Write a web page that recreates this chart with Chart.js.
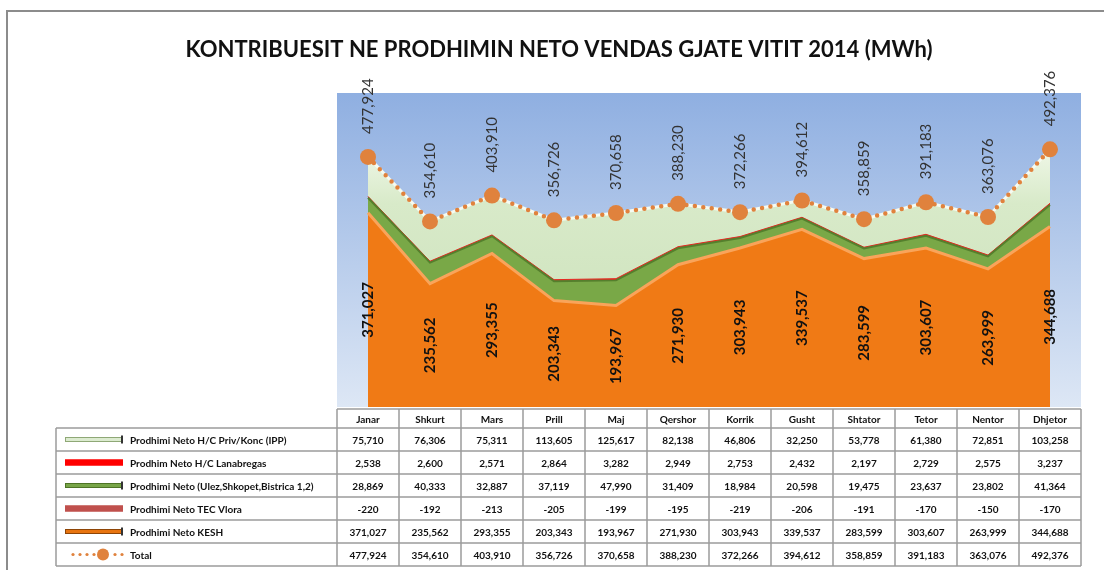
<!DOCTYPE html>
<html>
<head>
<meta charset="utf-8">
<script src="https://cdn.jsdelivr.net/npm/chart.js@4"></script>
<style>
    body { margin: 0; background: #fff; }
    canvas { display: block; }
</style>
</head>
<body>
<canvas id="prodhimiChart" width="1104" height="570"></canvas>
<script>
const months = ['Janar', 'Shkurt', 'Mars', 'Prill', 'Maj', 'Qershor', 'Korrik', 'Gusht', 'Shtator', 'Tetor', 'Nentor', 'Dhjetor'];
const ipp = [75710, 76306, 75311, 113605, 125617, 82138, 46806, 32250, 53778, 61380, 72851, 103258];
const lanabregas = [2538, 2600, 2571, 2864, 3282, 2949, 2753, 2432, 2197, 2729, 2575, 3237];
const ulez = [28869, 40333, 32887, 37119, 47990, 31409, 18984, 20598, 19475, 23637, 23802, 41364];
const tecVlora = [-220, -192, -213, -205, -199, -195, -219, -206, -191, -170, -150, -170];
const kesh = [371027, 235562, 293355, 203343, 193967, 271930, 303943, 339537, 283599, 303607, 263999, 344688];
const total = [477924, 354610, 403910, 356726, 370658, 388230, 372266, 394612, 358859, 391183, 363076, 492376];

const titleText = 'KONTRIBUESIT NE PRODHIMIN NETO VENDAS GJATE VITIT 2014 (MWh)';
const fmt = v => v.toLocaleString('en-US');

// rendi i rreshtave ne tabele (indekset e dataset-eve)
const tableOrder = [4, 3, 2, 0, 1, 5];

function drawSwatch(ctx, kind, x, y) {
    ctx.save();
    if (kind === 'total') {
        ctx.fillStyle = '#E0823D';
        for (let dx = 0; dx <= 52; dx += 7) {
            if (Math.abs(dx - 30) < 8) continue;
            ctx.beginPath();
            ctx.arc(x + 8 + dx, y, 1.6, 0, Math.PI * 2);
            ctx.fill();
        }
        ctx.beginPath();
        ctx.arc(x + 38, y, 6, 0, Math.PI * 2);
        ctx.fill();
    } else {
        const s = {
            ipp: ['#DCEBD0', '#8FA876', 5],
            lana: ['#FF0000', '#FF0000', 6],
            ulez: ['#78A548', '#4E7426', 5],
            tec: ['#C0504D', '#C0504D', 6],
            kesh: ['#E8740F', '#8E4506', 5]
        }[kind];
        ctx.fillStyle = s[0];
        ctx.fillRect(x, y - s[2] / 2, 58, s[2]);
        ctx.strokeStyle = s[1];
        ctx.lineWidth = 1;
        ctx.strokeRect(x + 0.5, y - s[2] / 2 + 0.5, 57, s[2] - 1);
        if (kind !== 'lana' && kind !== 'tec') {
            ctx.fillStyle = '#333';
            ctx.fillRect(x + 56, y - 4, 2, 8);
        }
    }
    ctx.restore();
}

const tablePlugin = {
    id: 'dataTable',
    beforeDraw(chart) {
        const ctx = chart.ctx;
        const area = chart.chartArea;
        ctx.save();
        ctx.fillStyle = '#ffffff';
        ctx.fillRect(0, 0, chart.width, chart.height);

        // korniza
        ctx.strokeStyle = '#8C8C8C';
        ctx.lineWidth = 2;
        ctx.beginPath();
        ctx.moveTo(7, chart.height);
        ctx.lineTo(7, 11);
        ctx.lineTo(chart.width, 11);
        ctx.stroke();

        // titulli
        ctx.fillStyle = '#111';
        ctx.font = 'bold 22px Lato';
        ctx.textAlign = 'center';
        ctx.textBaseline = 'middle';
        ctx.fillText(titleText, 559, 50);

        // sfondi i zones se grafikut
        const g = ctx.createLinearGradient(0, area.top, 0, area.bottom);
        g.addColorStop(0, '#8FAFE1');
        g.addColorStop(1, '#DDE7F5');
        ctx.fillStyle = g;
        ctx.fillRect(area.left, area.top, area.right - area.left, area.bottom - area.top);
        ctx.restore();
    },
    afterDraw(chart) {
        const ctx = chart.ctx;
        const xs = chart.scales.x;
        const area = chart.chartArea;
        const step = xs.getPixelForValue(1) - xs.getPixelForValue(0);

        // etiketat e totalit
        const totalMeta = chart.getDatasetMeta(5);
        ctx.save();
        ctx.fillStyle = '#333';
        ctx.font = '15px Lato';
        ctx.textBaseline = 'middle';
        ctx.textAlign = 'left';
        totalMeta.data.forEach((pt, i) => {
            ctx.save();
            ctx.translate(pt.x, pt.y - 23);
            ctx.rotate(-Math.PI / 2);
            ctx.fillText(fmt(total[i]), 0, 0);
            ctx.restore();
        });

        // etiketat e KESH
        const ys = chart.scales.y;
        ctx.fillStyle = '#111';
        ctx.font = 'bold 15px Lato';
        ctx.textAlign = 'center';
        kesh.forEach((v, i) => {
            const x = xs.getPixelForValue(i);
            const y = ys.getPixelForValue(v / 2);
            ctx.save();
            ctx.translate(x, y);
            ctx.rotate(-Math.PI / 2);
            ctx.fillText(fmt(v), 0, 0);
            ctx.restore();
        });
        ctx.restore();

        // tabela
        const headTop = area.bottom + 2;
        const headH = 19;
        const rowH = 23;
        const tableLeft = 56;
        const colLeft = xs.getPixelForValue(0) - step / 2;
        const colRight = xs.getPixelForValue(months.length - 1) + step / 2;
        const bodyTop = headTop + headH;
        const bodyBottom = bodyTop + rowH * tableOrder.length;

        ctx.save();
        ctx.fillStyle = '#ffffff';
        ctx.fillRect(tableLeft, bodyTop, colRight - tableLeft, bodyBottom - bodyTop);
        ctx.fillRect(colLeft, headTop, colRight - colLeft, headH);

        ctx.strokeStyle = '#9C9C9C';
        ctx.lineWidth = 1.5;
        ctx.beginPath();
        // vijat horizontale
        ctx.moveTo(colLeft, headTop);
        ctx.lineTo(colRight, headTop);
        for (let r = 0; r <= tableOrder.length; r++) {
            const y = bodyTop + r * rowH;
            ctx.moveTo(tableLeft, y);
            ctx.lineTo(colRight, y);
        }
        // vijat vertikale
        ctx.moveTo(tableLeft, bodyTop);
        ctx.lineTo(tableLeft, bodyBottom);
        for (let c = 0; c <= months.length; c++) {
            const x = colLeft + c * step;
            ctx.moveTo(x, headTop);
            ctx.lineTo(x, bodyBottom);
        }
        ctx.stroke();

        ctx.fillStyle = '#111';
        ctx.textBaseline = 'middle';
        ctx.textAlign = 'center';
        ctx.font = 'bold 10px Lato';
        months.forEach((m, i) => {
            ctx.fillText(m, xs.getPixelForValue(i), headTop + headH / 2 + 1);
        });

        tableOrder.forEach((dsIndex, r) => {
            const ds = chart.data.datasets[dsIndex];
            const yMid = bodyTop + r * rowH + rowH / 2;
            drawSwatch(ctx, ds.swatch, 65, yMid);
            ctx.fillStyle = '#111';
            ctx.textAlign = 'left';
            ctx.fillText(ds.label, 130, yMid + 1);
            ctx.textAlign = 'center';
            ds.data.forEach((v, i) => {
                ctx.fillText(fmt(v), xs.getPixelForValue(i), yMid + 1);
            });
        });
        ctx.restore();
    }
};

function renderChart() {
    const ctx = document.getElementById('prodhimiChart').getContext('2d');

    const ippFill = ctx.createLinearGradient(0, 140, 0, 320);
    ippFill.addColorStop(0, '#F3F9EC');
    ippFill.addColorStop(0.35, '#D8EAC9');
    ippFill.addColorStop(1, '#CFE3BE');

    new Chart(ctx, {
        type: 'line',
        data: {
            labels: months,
            datasets: [
                {
                    label: 'Prodhimi Neto TEC Vlora',
                    swatch: 'tec',
                    data: tecVlora,
                    backgroundColor: '#C0504D',
                    borderColor: '#C0504D',
                    borderWidth: 0,
                    fill: 'origin',
                    stack: 'prodhimi'
                },
                {
                    label: 'Prodhimi Neto KESH',
                    swatch: 'kesh',
                    data: kesh,
                    backgroundColor: '#F07A15',
                    borderColor: '#F9A45A',
                    borderWidth: 3,
                    fill: 'origin',
                    stack: 'prodhimi'
                },
                {
                    label: 'Prodhimi Neto (Ulez,Shkopet,Bistrica 1,2)',
                    swatch: 'ulez',
                    data: ulez,
                    backgroundColor: '#79A847',
                    borderColor: '#557F2D',
                    borderWidth: 2,
                    fill: '-1',
                    stack: 'prodhimi'
                },
                {
                    label: 'Prodhim Neto H/C Lanabregas',
                    swatch: 'lana',
                    data: lanabregas,
                    backgroundColor: '#E52A22',
                    borderColor: '#E52A22',
                    borderWidth: 1,
                    fill: '-1',
                    stack: 'prodhimi'
                },
                {
                    label: 'Prodhimi Neto H/C Priv/Konc (IPP)',
                    swatch: 'ipp',
                    data: ipp,
                    backgroundColor: ippFill,
                    borderColor: '#F6FBF1',
                    borderWidth: 3,
                    fill: '-1',
                    stack: 'prodhimi'
                },
                {
                    label: 'Total',
                    swatch: 'total',
                    data: total,
                    order: -1,
                    borderColor: '#E0823D',
                    borderWidth: 4.5,
                    borderDash: [0, 8.5],
                    borderCapStyle: 'round',
                    pointRadius: 8,
                    pointBackgroundColor: '#E0823D',
                    pointBorderWidth: 0,
                    fill: false,
                    stack: 'total'
                }
            ]
        },
        options: {
            responsive: false,
            devicePixelRatio: 1,
            animation: false,
            layout: {
                padding: { top: 93, left: 337, right: 23, bottom: 163 }
            },
            elements: {
                line: { tension: 0 },
                point: { radius: 0 }
            },
            scales: {
                x: {
                    display: false,
                    offset: true
                },
                y: {
                    display: false,
                    stacked: true,
                    min: 0,
                    max: 600000
                }
            },
            plugins: {
                legend: { display: false },
                title: { display: false },
                tooltip: { enabled: false }
            }
        },
        plugins: [tablePlugin]
    });
}

renderChart();
</script>
</body>
</html>
